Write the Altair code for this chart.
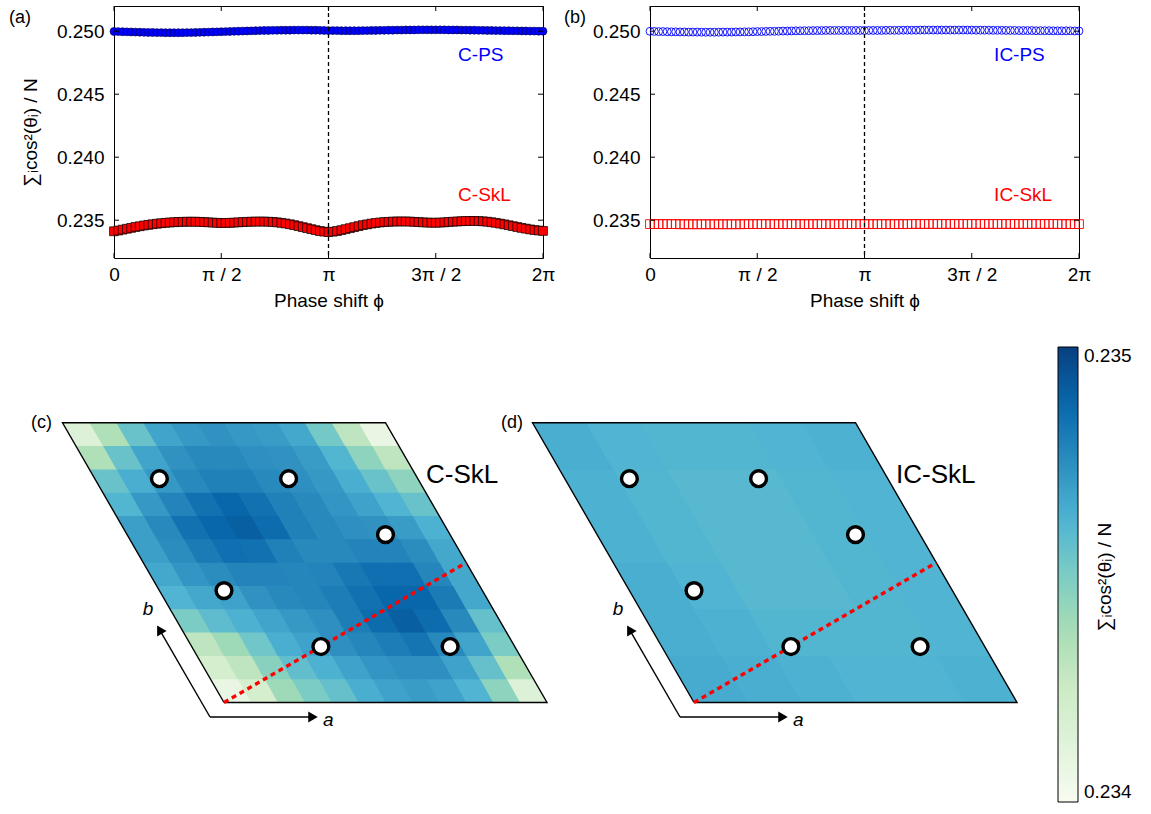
import math
import pandas as pd
import altair as alt

FONT = "Liberation Sans"
BLUE = "#0000ff"
RED = "#ff0000"

# ---------------- panel (a)/(b) data ----------------
N_PHI = 101
PHI = [2 * math.pi * k / (N_PHI - 1) for k in range(N_PHI)]

C_SKL = [
    0.23412, 0.23418, 0.23425, 0.23432, 0.23439, 0.23446, 0.23452, 0.23458, 0.23463, 0.23468,
    0.23472, 0.23476, 0.23479, 0.23482, 0.23484, 0.23486, 0.23487, 0.23488, 0.23488, 0.23488,
    0.23487, 0.23485, 0.23483, 0.23481, 0.23479, 0.23478, 0.23478, 0.23479, 0.23481, 0.23483,
    0.23485, 0.23487, 0.23488, 0.23489, 0.23489, 0.23489, 0.23488, 0.23486, 0.23483, 0.23479,
    0.23474, 0.23468, 0.23461, 0.23453, 0.23445, 0.23437, 0.23429, 0.23421, 0.23414, 0.23409,
    0.23406, 0.23409, 0.23414, 0.23421, 0.23429, 0.23437, 0.23445, 0.23453, 0.23461, 0.23467,
    0.23473, 0.23478, 0.23482, 0.23485, 0.23487, 0.23489, 0.23490, 0.23490, 0.23490, 0.23489,
    0.23487, 0.23485, 0.23483, 0.23481, 0.23480, 0.23480, 0.23481, 0.23483, 0.23486, 0.23488,
    0.23490, 0.23492, 0.23493, 0.23494, 0.23494, 0.23493, 0.23491, 0.23488, 0.23484, 0.23479,
    0.23473, 0.23467, 0.23460, 0.23453, 0.23446, 0.23439, 0.23433, 0.23427, 0.23422, 0.23418,
    0.23415,
]
C_PS = [
    0.24998, 0.24997, 0.24996, 0.24995, 0.24994, 0.24993, 0.24992, 0.24991, 0.24990, 0.24990,
    0.24989, 0.24989, 0.24988, 0.24988, 0.24988, 0.24988, 0.24988, 0.24989, 0.24989, 0.24990,
    0.24991, 0.24992, 0.24993, 0.24994, 0.24995, 0.24996, 0.24997, 0.24998, 0.24999, 0.25000,
    0.25001, 0.25002, 0.25003, 0.25004, 0.25005, 0.25006, 0.25006, 0.25007, 0.25007, 0.25008,
    0.25008, 0.25008, 0.25009, 0.25009, 0.25009, 0.25009, 0.25008, 0.25008, 0.25007, 0.25006,
    0.25005, 0.25005, 0.25005, 0.25004, 0.25004, 0.25004, 0.25004, 0.25004, 0.25005, 0.25005,
    0.25006, 0.25006, 0.25007, 0.25007, 0.25008, 0.25008, 0.25009, 0.25009, 0.25010, 0.25010,
    0.25010, 0.25011, 0.25011, 0.25011, 0.25011, 0.25011, 0.25011, 0.25011, 0.25010, 0.25010,
    0.25010, 0.25009, 0.25009, 0.25008, 0.25008, 0.25007, 0.25007, 0.25006, 0.25006, 0.25005,
    0.25005, 0.25004, 0.25004, 0.25003, 0.25003, 0.25002, 0.25002, 0.25001, 0.25001, 0.25000,
    0.25000,
]
IC_PS = [
    0.24999, 0.24998, 0.24997, 0.24997, 0.24996, 0.24995, 0.24995, 0.24994, 0.24994, 0.24993,
    0.24993, 0.24993, 0.24992, 0.24992, 0.24992, 0.24992, 0.24992, 0.24993, 0.24993, 0.24993,
    0.24994, 0.24994, 0.24995, 0.24995, 0.24996, 0.24997, 0.24997, 0.24998, 0.24999, 0.24999,
    0.25000, 0.25001, 0.25001, 0.25002, 0.25003, 0.25003, 0.25004, 0.25004, 0.25005, 0.25005,
    0.25005, 0.25006, 0.25006, 0.25006, 0.25006, 0.25006, 0.25006, 0.25006, 0.25006, 0.25006,
    0.25006, 0.25006, 0.25006, 0.25006, 0.25006, 0.25007, 0.25007, 0.25007, 0.25007, 0.25008,
    0.25008, 0.25008, 0.25008, 0.25009, 0.25009, 0.25009, 0.25009, 0.25009, 0.25009, 0.25009,
    0.25009, 0.25009, 0.25009, 0.25009, 0.25009, 0.25009, 0.25008, 0.25008, 0.25008, 0.25008,
    0.25007, 0.25007, 0.25007, 0.25006, 0.25006, 0.25006, 0.25005, 0.25005, 0.25005, 0.25005,
    0.25004, 0.25004, 0.25004, 0.25004, 0.25003, 0.25003, 0.25003, 0.25003, 0.25003, 0.25002,
    0.25002,
]
IC_SKL = [
    0.23469, 0.23469, 0.23469, 0.23469, 0.23469, 0.23469, 0.23469, 0.23468, 0.23468, 0.23468,
    0.23468, 0.23468, 0.23468, 0.23468, 0.23468, 0.23468, 0.23468, 0.23468, 0.23468, 0.23468,
    0.23468, 0.23468, 0.23469, 0.23469, 0.23469, 0.23469, 0.23469, 0.23469, 0.23469, 0.23469,
    0.23469, 0.23469, 0.23469, 0.23469, 0.23469, 0.23469, 0.23469, 0.23469, 0.23469, 0.23469,
    0.23469, 0.23469, 0.23469, 0.23469, 0.23469, 0.23469, 0.23469, 0.23469, 0.23469, 0.23469,
    0.23469, 0.23469, 0.23469, 0.23469, 0.23469, 0.23469, 0.23469, 0.23469, 0.23469, 0.23469,
    0.23469, 0.23470, 0.23470, 0.23470, 0.23470, 0.23470, 0.23470, 0.23470, 0.23470, 0.23470,
    0.23470, 0.23470, 0.23470, 0.23470, 0.23470, 0.23470, 0.23470, 0.23470, 0.23470, 0.23470,
    0.23470, 0.23470, 0.23470, 0.23470, 0.23470, 0.23470, 0.23470, 0.23470, 0.23470, 0.23470,
    0.23470, 0.23470, 0.23470, 0.23470, 0.23470, 0.23470, 0.23469, 0.23469, 0.23469, 0.23469,
    0.23469,
]
for arr in (C_SKL, C_PS, IC_PS, IC_SKL):
    assert len(arr) == N_PHI

X_TICKS = [0, math.pi / 2, math.pi, 3 * math.pi / 2, 2 * math.pi]
Y_TICKS = [0.235, 0.240, 0.245, 0.250]
Y_DOMAIN = [0.232, 0.252]
YTITLE = "∑ᵢcos²(θᵢ) / N"

# ---------------- panel (c)/(d) data ----------------
# rows from bottom (v=0) to top (v=1), columns along a (u=0 -> 1)
CSKL_GRID = [
    [0.23408, 0.23420, 0.23440, 0.23450, 0.23456, 0.23464, 0.23468, 0.23470, 0.23468, 0.23462, 0.23445, 0.23415],
    [0.23420, 0.23430, 0.23446, 0.23457, 0.23463, 0.23468, 0.23472, 0.23474, 0.23474, 0.23468, 0.23456, 0.23435],
    [0.23430, 0.23440, 0.23453, 0.23464, 0.23468, 0.23474, 0.23477, 0.23480, 0.23483, 0.23476, 0.23467, 0.23450],
    [0.23450, 0.23458, 0.23463, 0.23467, 0.23471, 0.23474, 0.23480, 0.23486, 0.23490, 0.23486, 0.23476, 0.23456],
    [0.23462, 0.23466, 0.23468, 0.23473, 0.23476, 0.23477, 0.23480, 0.23484, 0.23488, 0.23488, 0.23481, 0.23466],
    [0.23466, 0.23472, 0.23475, 0.23478, 0.23478, 0.23477, 0.23478, 0.23482, 0.23485, 0.23485, 0.23477, 0.23466],
    [0.23469, 0.23475, 0.23481, 0.23485, 0.23484, 0.23479, 0.23476, 0.23476, 0.23478, 0.23478, 0.23475, 0.23466],
    [0.23469, 0.23476, 0.23484, 0.23488, 0.23490, 0.23486, 0.23479, 0.23476, 0.23474, 0.23473, 0.23470, 0.23463],
    [0.23461, 0.23471, 0.23478, 0.23484, 0.23488, 0.23484, 0.23479, 0.23476, 0.23472, 0.23468, 0.23462, 0.23455],
    [0.23455, 0.23464, 0.23471, 0.23476, 0.23479, 0.23479, 0.23476, 0.23474, 0.23471, 0.23464, 0.23455, 0.23445],
    [0.23435, 0.23455, 0.23467, 0.23473, 0.23476, 0.23476, 0.23474, 0.23473, 0.23470, 0.23461, 0.23445, 0.23430],
    [0.23415, 0.23435, 0.23455, 0.23467, 0.23471, 0.23473, 0.23471, 0.23470, 0.23466, 0.23452, 0.23430, 0.23408],
]
ICSKL_GRID = [
    [0.23465, 0.23464, 0.23463, 0.23462, 0.23462, 0.23463],
    [0.23464, 0.23463, 0.23461, 0.23461, 0.23461, 0.23462],
    [0.23464, 0.23462, 0.23460, 0.23460, 0.23461, 0.23462],
    [0.23463, 0.23461, 0.23460, 0.23460, 0.23461, 0.23462],
    [0.23463, 0.23461, 0.23460, 0.23460, 0.23461, 0.23462],
    [0.23464, 0.23462, 0.23461, 0.23461, 0.23462, 0.23463],
]
SKX_U = [0.2, 0.6, 0.8, 0.2, 0.4, 0.8]
SKX_V = [0.8, 0.8, 0.6, 0.4, 0.2, 0.2]
DASH_U = [0.0, 1.0]
DASH_V = [0.0, 0.5]
C_MIN, C_MAX = 0.234, 0.235
# ColorBrewer GnBu (9 classes), from low to high
GNBU = ["#f7fcf0", "#e0f3db", "#ccebc5", "#a8ddb5", "#7bccc4", "#4eb3d3", "#2b8cbe", "#0868ac", "#084081"]
C_STOPS = [C_MIN + (C_MAX - C_MIN) * k / (len(GNBU) - 1) for k in range(len(GNBU))]

# ---------------- layout constants (pixels) ----------------
W, H = 429, 252
HSPACE = 107
VSPACE = 57
LEFT_PIX = 113
TOP_PIX = 4
PX = 323.0                      # pixels per lattice unit
ORIG_X, ORIG_Y = 223.0, 700.5   # page pixel of (c) bottom-left corner
D_SHIFT = 470.0 / PX
BOT_TOP_PIX = TOP_PIX + H + VSPACE
BW, BH = 950, 470
XMIN = (LEFT_PIX - ORIG_X) / PX
XMAX = XMIN + BW / PX
YMAX = (ORIG_Y - BOT_TOP_PIX) / PX
YMIN = YMAX - BH / PX
S3 = math.sqrt(3) / 2
EPS = 0.7 / PX                  # tiny overlap between neighbouring cells (hides seams)


def lat(px, py):
    return (px - ORIG_X) / PX, (ORIG_Y - py) / PX


def to_xy(u, v, shift):
    return u - 0.5 * v + shift, v * S3


LABEL_EXPR = ("datum.value < 0.01 ? '0' : abs(datum.value - PI/2) < 0.01 ? 'π / 2' : "
              "abs(datum.value - PI) < 0.01 ? 'π' : abs(datum.value - 3*PI/2) < 0.01 ? '3π / 2' : '2π'")


def top_panel(ps, skl, filled, ps_label, skl_label, tag, tag_x, show_ytitle):
    df = pd.DataFrame({"phi": PHI, "ps": ps, "skl": skl})
    xs = alt.Scale(domain=[0, 2 * math.pi], nice=False, zero=False)
    ys = alt.Scale(domain=Y_DOMAIN, nice=False, zero=False)
    xax = alt.Axis(values=X_TICKS, labelExpr=LABEL_EXPR, title="Phase shift ϕ",
                   labelPadding=7, titlePadding=7, labelFlush=False)
    if show_ytitle:
        yax = alt.Axis(values=Y_TICKS, format=".3f", title=YTITLE, labelPadding=10, titlePadding=16)
    else:
        yax = alt.Axis(values=Y_TICKS, format=".3f", title=None, labelPadding=10)
    base = alt.Chart(df)
    if filled:
        ps_m = base.mark_point(shape="circle", size=62, filled=True, fill=BLUE, stroke="#00005a",
                               strokeWidth=0.7, opacity=1)
        skl_m = base.mark_point(shape="square", size=78, filled=True, fill=RED, stroke="black",
                                strokeWidth=0.7, opacity=1)
    else:
        ps_m = base.mark_point(shape="circle", size=62, filled=False, stroke=BLUE, strokeWidth=0.9,
                               opacity=1)
        skl_m = base.mark_point(shape="square", size=78, filled=False, stroke=RED, strokeWidth=0.9,
                                opacity=1)
    ps_l = ps_m.encode(x=alt.X("phi:Q", scale=xs, axis=xax), y=alt.Y("ps:Q", scale=ys, axis=yax))
    skl_l = skl_m.encode(x=alt.X("phi:Q", scale=xs, axis=xax), y=alt.Y("skl:Q", scale=ys, axis=yax))

    vline = alt.Chart(pd.DataFrame({"phi": [math.pi]})).mark_rule(
        color="black", strokeWidth=1.3, strokeDash=[4, 3]).encode(x="phi:Q")

    tx = alt.Chart(pd.DataFrame({"phi": X_TICKS}))
    ty = alt.Chart(pd.DataFrame({"ps": Y_TICKS}))
    ticks = [
        tx.mark_rule(color="black").encode(x="phi:Q", y=alt.value(H), y2=alt.value(H - 5)),
        tx.mark_rule(color="black").encode(x="phi:Q", y=alt.value(0), y2=alt.value(5)),
        ty.mark_rule(color="black").encode(y="ps:Q", x=alt.value(0), x2=alt.value(5)),
        ty.mark_rule(color="black").encode(y="ps:Q", x=alt.value(W), x2=alt.value(W - 5)),
    ]

    lab_ps = alt.Chart(pd.DataFrame({"phi": [5.04], "ps": [0.2481], "t": [ps_label]})).mark_text(
        align="left", baseline="middle", fontSize=19, color=BLUE).encode(x="phi:Q", y="ps:Q", text="t:N")
    lab_skl = alt.Chart(pd.DataFrame({"phi": [5.04], "ps": [0.23703], "t": [skl_label]})).mark_text(
        align="left", baseline="middle", fontSize=19, color=RED).encode(x="phi:Q", y="ps:Q", text="t:N")
    tag_t = alt.Chart(pd.DataFrame({"t": [tag]})).mark_text(
        align="left", baseline="middle", fontSize=18).encode(
        x=alt.value(tag_x), y=alt.value(11.5), text="t:N")
    return alt.layer(ps_l, skl_l, vline, *ticks, lab_ps, lab_skl, tag_t).properties(width=W, height=H)


pa = top_panel(C_PS, C_SKL, True, "C-PS", "C-SkL", "(a)", -105, True)
pb = top_panel(IC_PS, IC_SKL, False, "IC-PS", "IC-SkL", "(b)", -86, False)

# ---------------- bottom row ----------------
cell_rows = []
outline_rows = []
dash_rows = []
skx_rows = []
for name, grid, shift in (("c", CSKL_GRID, 0.0), ("d", ICSKL_GRID, D_SHIFT)):
    n = len(grid)
    for j, row in enumerate(grid):
        for i, val in enumerate(row):
            for dv in (0, 1):
                v = (j + dv) / n
                x1, y = to_xy(i / n, v, shift)
                x2, _ = to_xy((i + 1) / n, v, shift)
                if dv == 1 and j < n - 1:
                    y += EPS
                if i < n - 1:
                    x2 += EPS
                cell_rows.append(dict(cell=f"{name}{i:02d}_{j:02d}", X=x1, X2=x2, Y=y, val=val))
    for k, (u, v) in enumerate([(0, 0), (1, 0), (1, 1), (0, 1), (0, 0)]):
        x, y = to_xy(u, v, shift)
        outline_rows.append(dict(panel=name, k=k, X=x, Y=y))
    xa, ya = to_xy(DASH_U[0], DASH_V[0], shift)
    xb, yb = to_xy(DASH_U[1], DASH_V[1], shift)
    dash_rows.append(dict(X=xa, Y=ya, X2=xb, Y2=yb))
    for u, v in zip(SKX_U, SKX_V):
        x, y = to_xy(u, v, shift)
        skx_rows.append(dict(X=x, Y=y))

bx = alt.Scale(domain=[XMIN, XMAX], nice=False, zero=False)
by = alt.Scale(domain=[YMIN, YMAX], nice=False, zero=False)
cscale = alt.Scale(domain=C_STOPS, range=GNBU, interpolate="rgb", clamp=True)

# the legend is hoisted to the top level: its position is relative to panel (a)'s origin
legend = alt.Legend(type="gradient", orient="none", legendX=1057 - LEFT_PIX, legendY=345 - TOP_PIX,
                    direction="vertical", gradientLength=455, gradientThickness=20,
                    values=[C_MIN, C_MAX], format=".3f", title=None, labelFontSize=19, labelFont=FONT,
                    labelOffset=6, labelBaseline="middle", gradientStrokeColor="black",
                    gradientStrokeWidth=1, padding=0, labelColor="black")

cells = alt.Chart(pd.DataFrame(cell_rows)).mark_area(orient="horizontal").encode(
    x=alt.X("X:Q", scale=bx, axis=None, stack=False),
    x2="X2:Q",
    y=alt.Y("Y:Q", scale=by, axis=None),
    color=alt.Color("val:Q", scale=cscale, legend=legend),
    detail="cell:N",
)
outline = alt.Chart(pd.DataFrame(outline_rows)).mark_line(color="black", strokeWidth=1.4).encode(
    x="X:Q", y="Y:Q", order="k:Q", detail="panel:N")
dash = alt.Chart(pd.DataFrame(dash_rows)).mark_rule(color=RED, strokeWidth=3.2, strokeDash=[5, 4]).encode(
    x="X:Q", y="Y:Q", x2="X2:Q", y2="Y2:Q")
skx = alt.Chart(pd.DataFrame(skx_rows)).mark_point(
    shape="circle", size=250, filled=True, fill="white", stroke="black", strokeWidth=3.4, opacity=1).encode(
    x="X:Q", y="Y:Q")

# lattice-vector arrows
ox, oy = lat(209, 715)
LA, LB = 109 / PX, 107 / PX
HEAD = 6 / PX
arrow_rows, heada_rows, headb_rows = [], [], []
for shift in (0.0, D_SHIFT):
    ax_end = (ox + shift + LA - HEAD, oy)
    bx_end = (ox + shift - 0.5 * (LB - HEAD), oy + S3 * (LB - HEAD))
    arrow_rows.append(dict(X=ox + shift, Y=oy, X2=ax_end[0], Y2=ax_end[1]))
    arrow_rows.append(dict(X=ox + shift, Y=oy, X2=bx_end[0], Y2=bx_end[1]))
    heada_rows.append(dict(X=ax_end[0], Y=ax_end[1]))
    headb_rows.append(dict(X=bx_end[0], Y=bx_end[1]))
arrows = alt.Chart(pd.DataFrame(arrow_rows)).mark_rule(color="black", strokeWidth=1.4).encode(
    x="X:Q", y="Y:Q", x2="X2:Q", y2="Y2:Q")
head_a = alt.Chart(pd.DataFrame(heada_rows)).mark_point(
    shape="triangle-right", size=120, filled=True, color="black", opacity=1).encode(x="X:Q", y="Y:Q")
head_b = alt.Chart(pd.DataFrame(headb_rows)).mark_point(
    shape="triangle-up", angle=330, size=120, filled=True, color="black", opacity=1).encode(x="X:Q", y="Y:Q")

al = lat(322, 718)
bl = lat(147, 607)
ab_rows = []
for shift in (0.0, D_SHIFT):
    ab_rows.append(dict(X=al[0] + shift, Y=al[1], t="a"))
    ab_rows.append(dict(X=bl[0] + shift, Y=bl[1], t="b"))
ab_df = pd.DataFrame(ab_rows)
ab_a = alt.Chart(ab_df[ab_df.t == "a"]).mark_text(align="left", baseline="middle", fontSize=19,
                                                  fontStyle="italic").encode(x="X:Q", y="Y:Q", text="t:N")
ab_b = alt.Chart(ab_df[ab_df.t == "b"]).mark_text(align="center", baseline="middle", fontSize=19,
                                                  fontStyle="italic").encode(x="X:Q", y="Y:Q", text="t:N")

nm_c = lat(425, 473)
nm_d = lat(895, 473)
big_df = pd.DataFrame({"X": [nm_c[0], nm_d[0]], "Y": [nm_c[1], nm_d[1]], "t": ["C-SkL", "IC-SkL"]})
names = alt.Chart(big_df).mark_text(align="left", baseline="middle", fontSize=26).encode(
    x="X:Q", y="Y:Q", text="t:N")
tg = lat(30, 421)
tags_df = pd.DataFrame({"X": [tg[0], tg[0] + D_SHIFT], "Y": [tg[1], tg[1]], "t": ["(c)", "(d)"]})
tags = alt.Chart(tags_df).mark_text(align="left", baseline="middle", fontSize=18).encode(
    x="X:Q", y="Y:Q", text="t:N")

cb_title = alt.Chart(pd.DataFrame({"t": [YTITLE]})).mark_text(
    angle=270, align="center", baseline="middle", fontSize=19).encode(
    x=alt.value(1104 - LEFT_PIX), y=alt.value(575 - BOT_TOP_PIX), text="t:N")

bottom = alt.layer(cells, outline, dash, skx, arrows, head_a, head_b, ab_a, ab_b, names, tags,
                   cb_title).properties(width=BW, height=BH,
                                        view=alt.ViewBackground(stroke="transparent"))

top = alt.hconcat(pa, pb, spacing=HSPACE, bounds="flush")
# with flush bounds the nested top row counts as zero height, so its height goes into the spacing
chart = alt.vconcat(top, bottom, spacing=H + VSPACE, bounds="flush").properties(
    padding={"left": 8, "top": 4, "right": 5, "bottom": 2}
).configure_view(stroke="black", strokeWidth=1).configure_axis(
    labelFont=FONT, titleFont=FONT, labelFontSize=19, titleFontSize=19, labelColor="black",
    titleColor="black", titleFontWeight="normal", grid=False, domain=False, ticks=False
).configure_text(font=FONT, color="black").configure_legend(labelFont=FONT)

chart.save("out.html", embed_options={"renderer": "svg", "actions": False})
